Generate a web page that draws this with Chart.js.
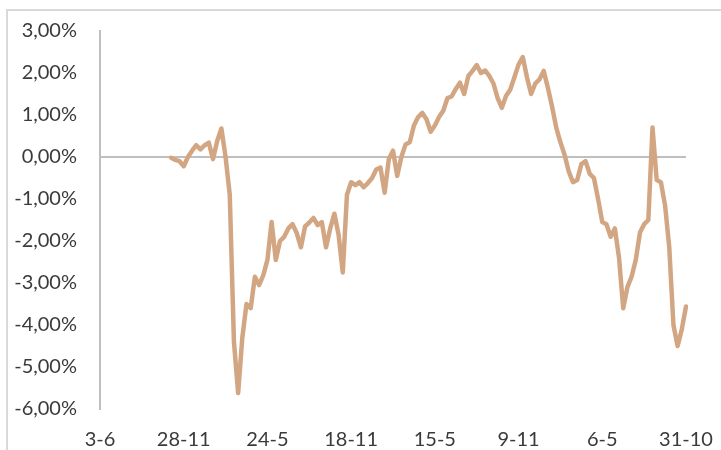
<!DOCTYPE html>
<html>
<head>
<meta charset="utf-8">
<script src="https://cdn.jsdelivr.net/npm/chart.js@4/dist/chart.umd.min.js"></script>
<style>
    html, body { margin: 0; padding: 0; background: #fff; overflow: hidden; }
    .frame {
        position: absolute; left: 6px; top: 9px; width: 800px; height: 500px;
        border: 2px solid #d9d9d9;
    }
    .wrap { position: absolute; left: 0; top: 0; width: 721px; height: 450px; }
</style>
</head>
<body>
<div class="frame"></div>
<div class="wrap"><canvas id="chart" width="721" height="450"></canvas></div>
<script>
// tick labels on the date axis, one every `labelEvery` observations
const dateLabels = ["3-6", "28-11", "24-5", "18-11", "15-5", "9-11", "6-5", "31-10"]
const labelEvery = 20
// observations before the series starts
const leadingGap = 17
// relative performance, in percent
const spread = [
    -0.02, -0.07, -0.10, -0.22, 0.00, 0.15, 0.28, 0.18, 0.28, 0.34,
    -0.05, 0.38, 0.68, 0.00, -0.90, -4.40, -5.62, -4.30, -3.50, -3.60,
    -2.85, -3.05, -2.82, -2.45, -1.55, -2.45, -2.00, -1.90, -1.70, -1.60,
    -1.81, -2.15, -1.65, -1.56, -1.45, -1.62, -1.55, -2.15, -1.70, -1.35,
    -1.85, -2.75, -0.90, -0.60, -0.67, -0.60, -0.72, -0.62, -0.50, -0.30,
    -0.25, -0.85, -0.05, 0.15, -0.45, 0.00, 0.30, 0.35, 0.75, 0.95,
    1.05, 0.90, 0.60, 0.75, 0.95, 1.10, 1.40, 1.44, 1.62, 1.77,
    1.50, 1.93, 2.05, 2.19, 2.00, 2.06, 1.93, 1.75, 1.40, 1.17,
    1.45, 1.60, 1.90, 2.20, 2.38, 1.90, 1.50, 1.75, 1.85, 2.05,
    1.65, 1.20, 0.70, 0.35, 0.05, -0.35, -0.60, -0.55, -0.17, -0.10,
    -0.40, -0.50, -1.00, -1.55, -1.60, -1.90, -1.70, -2.40, -3.60, -3.10,
    -2.85, -2.45, -1.80, -1.60, -1.50, 0.70, -0.55, -0.60, -1.15, -2.15,
    -4.00, -4.50, -4.10, -3.56,
]
const yTicks = [-6, -5, -4, -3, -2, -1, 0, 1, 2, 3]

const total = (dateLabels.length - 1) * labelEvery + 1
const labels = []
for (let i = 0; i < total; i++) {
    labels.push(i % labelEvery === 0 ? dateLabels[i / labelEvery] : "")
}
const series = new Array(leadingGap).fill(null).concat(spread)

const textColor = "#3a3a3a"
const axisGray = "#bfbfbf"
const font = { family: "Lato, 'Open Sans', sans-serif", size: 20 }

const fmt = (v) => v.toFixed(2).replace(".", ",") + "%"

new Chart(document.getElementById("chart").getContext("2d"), {
    type: "line",
    data: {
        labels: labels,
        datasets: [
            {
                data: series,
                borderColor: "#d3a683",
                borderWidth: 4.5,
                pointRadius: 0,
                tension: 0,
                borderJoinStyle: "round",
                borderCapStyle: "round",
                spanGaps: false,
            },
        ],
    },
    options: {
        responsive: false,
        animation: false,
        layout: { padding: { left: 0, top: 31, right: 35, bottom: 0 } },
        plugins: { legend: { display: false }, tooltip: { enabled: false } },
        scales: {
            x: {
                offset: false,
                grid: { display: false, drawTicks: false },
                border: { display: false },
                ticks: {
                    autoSkip: false,
                    maxRotation: 0,
                    minRotation: 0,
                    padding: 19,
                    color: textColor,
                    font: font,
                },
                afterFit: (scale) => {
                    scale.height = 41
                    scale.paddingLeft = 0
                    scale.paddingRight = 0
                },
            },
            y: {
                min: -6,
                max: 3,
                afterBuildTicks: (scale) => {
                    scale.ticks = yTicks.map((v) => ({ value: v }))
                },
                grid: {
                    drawTicks: false,
                    lineWidth: 2,
                    color: (ctx) => (ctx.tick && ctx.tick.value === 0 ? axisGray : "rgba(0,0,0,0)"),
                },
                border: { display: true, color: axisGray, width: 2 },
                ticks: {
                    padding: 23,
                    color: textColor,
                    font: font,
                    callback: (v) => fmt(v),
                },
                afterFit: (scale) => {
                    scale.width = 100
                    scale.paddingTop = 0
                    scale.paddingBottom = 0
                },
            },
        },
    },
})
</script>
</body>
</html>
